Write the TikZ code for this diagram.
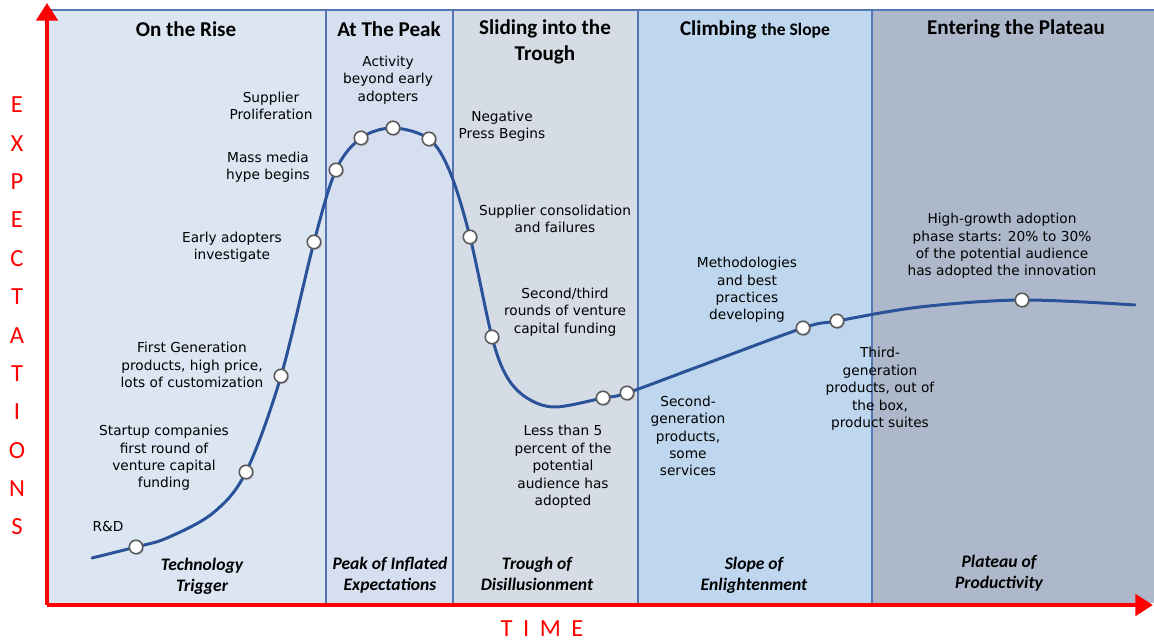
\documentclass[tikz,border=0pt]{standalone}
\usepackage{fontspec}
\setmainfont{Carlito}
\newfontfamily\notefont{DejaVu Sans}
\definecolor{risefill}{RGB}{220, 230, 243}
\definecolor{peakfill}{RGB}{214, 223, 240}
\definecolor{troughfill}{RGB}{214, 220, 230}
\definecolor{slopefill}{RGB}{190, 215, 238}
\definecolor{plateaufill}{RGB}{173, 185, 203}
\definecolor{panelline}{RGB}{84, 118, 178}
\definecolor{hypeblue}{RGB}{42, 82, 152}
\definecolor{axisred}{RGB}{255, 0, 0}
\usetikzlibrary{arrows.meta, shadows}

\begin{document}
\begin{tikzpicture}[x=0.02cm, y=-0.02cm,
  phase/.style={font=\fontsize{12}{14.5}\selectfont\bfseries, align=center, inner sep=1pt},
  stage/.style={font=\fontsize{10}{12}\selectfont\bfseries\itshape, align=center, inner sep=1pt},
  note/.style={font=\notefont\fontsize{7.8}{9.9}\selectfont, align=center, inner sep=1pt},
  dot/.style={circle, draw=black!65, fill=white, line width=0.9pt, minimum size=0.27cm, inner sep=0pt,
    drop shadow={shadow xshift=0.7pt, shadow yshift=-0.7pt, opacity=0.35}},
  axislabel/.style={font=\fontsize{14}{16}\selectfont, text=axisred, inner sep=0pt},
  axis/.style={axisred, line width=2.8pt, -{Triangle[width=12pt, length=10pt]}}
]
  \useasboundingbox (0,0) rectangle (1154,641);

  % Background panels
  \fill[risefill] (49,10) rectangle (326,603);
  \fill[peakfill] (326,10) rectangle (453,603);
  \fill[troughfill] (453,10) rectangle (638,603);
  \fill[slopefill] (638,10) rectangle (872,603);
  \fill[plateaufill] (872,10) rectangle (1154,603);
  \draw[panelline, line width=0.9pt] (49,10) -- (1154,10);
  \foreach \xb in {326, 453, 638, 872}
    \draw[panelline, line width=0.9pt] (\xb,10) -- (\xb,603);

  % Phase titles
  \node[phase] (rise) at (186, 29) {On the Rise};
  \node[phase] (peak) at (389, 29) {At The Peak};
  \node[phase] (slide) at (545, 42) {Sliding into the\\Trough};
  \node[phase] (climb) at (755, 30) {Climbing {\fontsize{10}{12}\selectfont the Slope}};
  \node[phase] (enter) at (1016, 29) {Entering the Plateau};

  % Stage names
  \node[stage] (trigger) at (202, 576) {Technology\\Trigger};
  \node[stage] (inflated) at (390, 575) {Peak of Inflated\\Expectations};
  \node[stage] (disill) at (537, 574) {Trough of\\Disillusionment};
  \node[stage] (enlight) at (754, 575) {Slope of\\Enlightenment};
  \node[stage] (product) at (999, 573) {Plateau of\\Productivity};

  % Hype curve
  \draw[hypeblue, line width=1.7pt, line cap=round] plot[smooth, tension=0.55] coordinates {
    (92,558) (136,547) (167,538) (213,513) (246,472) (281,376) (314,242) (336,170) (361,138)
    (393,128) (429,139) (450,172) (470,237) (492,337) (507,377) (527,398) (555,407) (603,398)
    (627,393) (700,366) (803,328) (837,321) (920,307) (1022,300) (1135,305)};

  % Points on the curve
  \node[dot] (rd) at (136,547) {};
  \node[dot] (startup) at (246,472) {};
  \node[dot] (firstgen) at (281,376) {};
  \node[dot] (early) at (314,242) {};
  \node[dot] (media) at (336,170) {};
  \node[dot] (prolif) at (361,138) {};
  \node[dot] (activity) at (393,128) {};
  \node[dot] (negpress) at (429,139) {};
  \node[dot] (consol) at (470,237) {};
  \node[dot] (rounds) at (492,337) {};
  \node[dot] (lessfive) at (603,398) {};
  \node[dot] (secondgen) at (627,393) {};
  \node[dot] (method) at (803,328) {};
  \node[dot] (thirdgen) at (837,321) {};
  \node[dot] (highgrowth) at (1022,300) {};

  % Notes along the curve
  \node[note] (rdtext) at (108, 527) {R\&D};
  \node[note] (startuptext) at (164, 458) {Startup companies\\first round of\\venture capital\\funding};
  \node[note] (firstgentext) at (192, 365) {First Generation\\products, high price,\\lots of customization};
  \node[note] (earlytext) at (232, 247) {Early adopters\\investigate};
  \node[note] (mediatext) at (268, 167) {Mass media\\hype begins};
  \node[note] (prolitext) at (271, 106) {Supplier\\Proliferation};
  \node[note] (activitytext) at (388, 80) {Activity\\beyond early\\adopters};
  \node[note] (negtext) at (502, 126) {Negative\\Press Begins};
  \node[note] (consoltext) at (555, 219) {Supplier consolidation\\and failures};
  \node[note] (roundstext) at (565, 312) {Second/third\\rounds of venture\\capital funding};
  \node[note] (lesstext) at (563, 467) {Less than 5\\percent of the\\potential\\audience has\\adopted};
  \node[note] (secondtext) at (688, 436) {Second-\\generation\\products,\\some\\services};
  \node[note] (methodtext) at (747, 290) {Methodologies\\and best\\practices\\developing};
  \node[note] (thirdtext) at (880, 389) {Third-\\generation\\products, out of\\the box,\\product suites};
  \node[note] (hightext) at (1002, 246) {High-growth adoption\\phase starts: 20\% to 30\%\\of the potential audience\\has adopted the innovation};

  % Axes
  \coordinate (origin) at (47,605);
  \coordinate (ytip) at (47,3);
  \coordinate (xtip) at (1153,605);
  \draw[axis] (origin) -- (ytip);
  \draw[axis] (origin) -- (xtip);
  \foreach \l [count=\i] in {E,X,P,E,C,T,A,T,I,O,N,S}
    \node[axislabel] (exp\i) at (17, {105+38.36*(\i-1)}) {\l};
  \node[axislabel] (time) at (542, 629) {T\hspace{6pt}I\hspace{6pt}M\hspace{6pt}E};
\end{tikzpicture}
\end{document}
